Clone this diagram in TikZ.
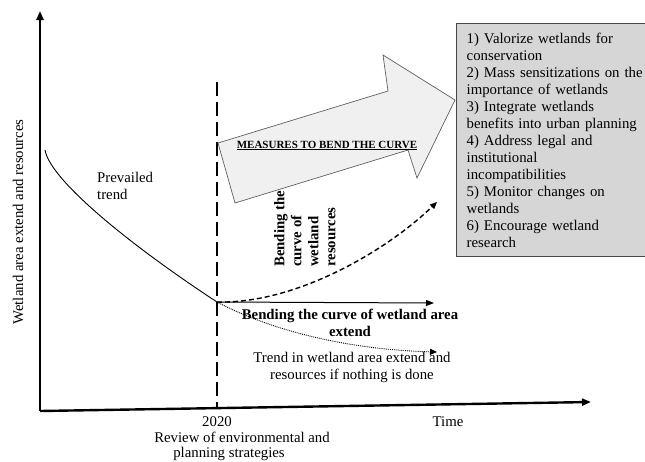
\documentclass[tikz,border=0pt]{standalone}
\usepackage{fontspec}
\setmainfont{Liberation Serif}
\usetikzlibrary{arrows.meta,positioning}

\begin{document}
\begin{tikzpicture}[
x=1pt, y=-1pt,
font=\fontsize{14.8}{17}\selectfont,
axis/.style={line width=2.4pt, -{Triangle[length=9pt,width=7pt]}},
trend/.style={line width=0.9pt},
guide/.style={line width=2pt, dash pattern=on 14pt off 6pt},
upcurve/.style={line width=1.4pt, dash pattern=on 5pt off 3pt, -{Triangle[length=7pt,width=6pt]}},
flatarr/.style={line width=1pt, -{Triangle[length=8pt,width=6pt]}},
downcurve/.style={line width=0.9pt, densely dotted, -{Triangle[length=7pt,width=6pt]}},
lbl/.style={inner sep=0pt, align=center},
boldlbl/.style={lbl, font=\fontsize{14.8}{17}\selectfont\bfseries},
bigarrow/.style={draw=gray!75!black, fill=gray!12, line width=0.7pt},
measbox/.style={draw=gray!55!black, line width=1.4pt, fill=gray!32, align=left,
  inner xsep=10pt, inner ysep=9pt, anchor=north west, text width=180pt}
]
\useasboundingbox (0,0) rectangle (645,461);

% axes and key points
\coordinate (origin) at (40,411);
\coordinate (yend) at (40,11);
\coordinate (xend) at (591,402);
\coordinate (t0) at (45,150);
\coordinate (split) at (217,302);
\coordinate (guidetop) at (217,82);
\coordinate (guidebot) at (217,408);
\coordinate (upend) at (437,202);
\coordinate (flatend) at (434,303);
\coordinate (downend) at (437,352);

\draw[axis] (origin) -- (yend);
\draw[axis] (origin) -- (xend);
\draw[guide] (guidetop) -- (guidebot);

% measures arrow
\draw[bigarrow] (218,143) -- (388,91) -- (383,55) -- (455,100) -- (417,178)
  -- (408,150) -- (235,203) -- cycle;
\node[boldlbl, font=\fontsize{11}{13}\selectfont\bfseries, anchor=base] (meas) at (327,148)
  {\underline{MEASURES TO BEND THE CURVE}};

\node[measbox] (list) at (456,23) {1) Valorize wetlands for\\conservation\\
  2) Mass sensitizations on the\\importance of wetlands\\
  3) Integrate wetlands\\benefits into urban planning\\
  4) Address legal and\\institutional\\incompatibilities\\
  5) Monitor changes on\\wetlands\\
  6) Encourage wetland\\research};

% trends
\draw[trend] (t0) .. controls (50,180) and (130,245) .. (split);
\draw[upcurve] (split) .. controls (295,304) and (385,252) .. (upend);
\draw[flatarr] (split) -- (flatend);
\draw[downcurve] (split) .. controls (280,335) and (360,350) .. (downend);

% labels
\node[lbl, rotate=90] (ylab) at (18,222) {Wetland area extend and resources};
\node[lbl, align=left, anchor=base west] (prev) at (97,199) {Prevailed\\trend};
\node[boldlbl, rotate=90, align=left, anchor=north west] (resbend) at (274,267)
  {Bending the\\curve of\\wetland\\resources};
\node[boldlbl, anchor=north] (areabend) at (350,309) {Bending the curve of wetland area\\extend};
\node[lbl, anchor=north] (nothing) at (352,352) {Trend in wetland area extend and\\resources if nothing is done};
\node[lbl, anchor=base] (year) at (217,426) {2020};
\node[lbl, anchor=base] (review) at (242,442) {Review of environmental and};
\node[lbl, anchor=base] (plan) at (229,457) {planning strategies};
\node[lbl, anchor=base] (time) at (448,426) {Time};
\end{tikzpicture}
\end{document}
